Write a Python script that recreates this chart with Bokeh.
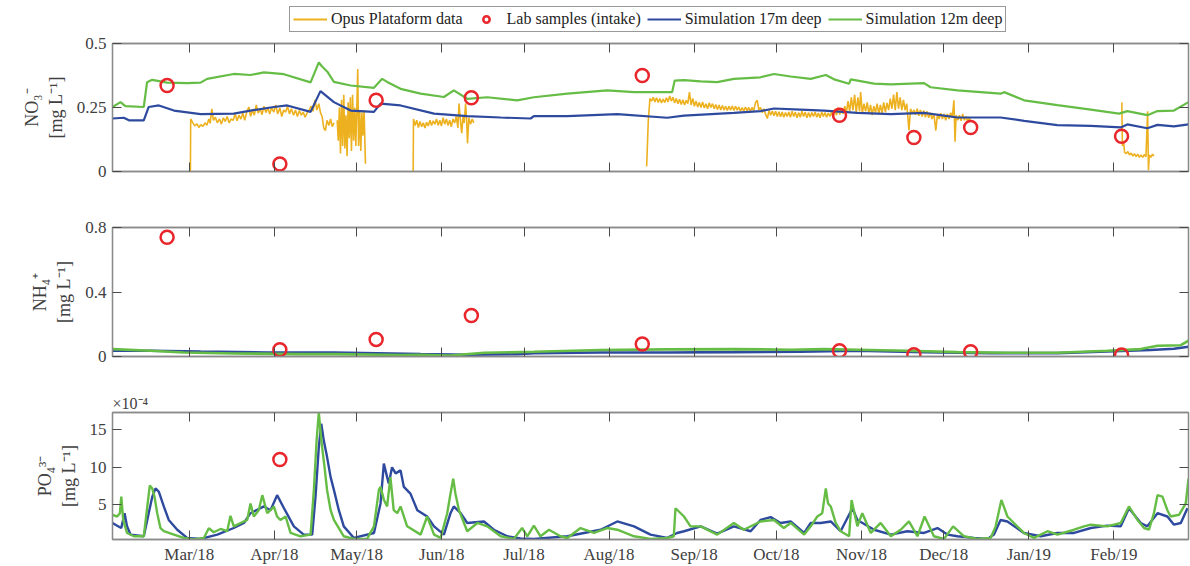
import math
import numpy as np
import pandas as pd
from bokeh.plotting import figure
from bokeh.layouts import column
from bokeh.models import (Range1d, FixedTicker, LinearAxis, DatetimeAxis, Legend,
                          LegendItem, CustomJSTickFormatter, DatetimeTickFormatter)
from bokeh.embed import file_html
from bokeh.resources import INLINE

NA = float("nan")
START = pd.Timestamp("2018-02-01")
END_DAY = 392.2  # last record, in days after START

# ---------------------------------------------------------------- data
# all series: (days after 2018-02-01, value)
month_ticks = ["2018-03-01", "2018-04-01", "2018-05-01", "2018-06-01", "2018-07-01",
               "2018-08-01", "2018-09-01", "2018-10-01", "2018-11-01", "2018-12-01",
               "2019-01-01", "2019-02-01"]
month_labels = ["Mar/18", "Apr/18", "May/18", "Jun/18", "Jul/18", "Aug/18",
                "Sep/18", "Oct/18", "Nov/18", "Dec/18", "Jan/19", "Feb/19"]

# lab samples taken at the intake
lab_day = [19.9, 61.0, 96.1, 130.8, 193.1, 265.0, 292.1, 312.8, 367.8]
lab_no3 = [0.336, 0.029, 0.278, 0.288, 0.375, 0.220, 0.133, 0.172, 0.138]
lab_nh4 = [0.740, 0.042, 0.106, 0.254, 0.077, 0.036, 0.011, 0.029, 0.009]
lab_po4 = [NA, 11.05, NA, NA, NA, NA, NA, NA, NA]          # x 1e-4 mg/L

# NO3 from the Opus platform sensor (gaps = no data)
opus_no3 = [
    (28.4, 0.0), (28.5, 0.205), (29.3, 0.19), (30.0, 0.178), (30.8, 0.186), (31.5, 0.172),
    (32.2, 0.183), (33.0, 0.176), (33.7, 0.19), (34.4, 0.181), (35.1, 0.205), (35.6, 0.188),
    (36.2, 0.245), (36.8, 0.2), (37.5, 0.212), (38.2, 0.19), (39.0, 0.205), (39.7, 0.185),
    (40.4, 0.21), (41.1, 0.195), (41.8, 0.215), (42.5, 0.19), (43.2, 0.205), (44.0, 0.2),
    (44.7, 0.225), (45.4, 0.198), (46.1, 0.22), (46.8, 0.205), (47.5, 0.228), (48.2, 0.2),
    (49.0, 0.235), (49.7, 0.252), (50.3, 0.215), (51.0, 0.24), (51.7, 0.22), (52.4, 0.26),
    (53.1, 0.228), (53.8, 0.245), (54.5, 0.222), (55.2, 0.255), (55.9, 0.23), (56.6, 0.248),
    (57.3, 0.225), (58.0, 0.25), (58.8, 0.232), (59.5, 0.26), (60.2, 0.225), (61.0, 0.248),
    (61.7, 0.215), (62.4, 0.24), (63.1, 0.232), (63.8, 0.255), (64.5, 0.225), (65.2, 0.245),
    (66.0, 0.22), (66.7, 0.24), (67.4, 0.215), (68.1, 0.238), (68.8, 0.22), (69.5, 0.232),
    (70.2, 0.212), (71.0, 0.23), (71.7, 0.24), (72.4, 0.255), (73.1, 0.235), (73.8, 0.28),
    (74.5, 0.24), (75.2, 0.265), (75.8, 0.23), (76.4, 0.215), (77.0, 0.17), (77.6, 0.16),
    (78.2, 0.2), (78.9, 0.18), (79.5, 0.205), (80.1, 0.175), (80.7, 0.19),
    (NA, NA),
    (81.9, 0.2), (82.3, 0.12), (82.7, 0.25), (83.1, 0.07), (83.5, 0.28), (83.9, 0.1),
    (84.3, 0.3), (84.7, 0.09), (85.1, 0.22), (85.5, 0.06), (85.9, 0.27), (86.3, 0.13),
    (86.7, 0.29), (87.1, 0.08), (87.5, 0.3), (87.9, 0.12), (88.3, 0.25), (88.7, 0.1),
    (89.1, 0.27), (89.4, 0.40), (89.7, 0.1), (90.1, 0.24), (90.5, 0.08), (90.9, 0.23),
    (91.3, 0.14), (91.7, 0.24), (92.2, 0.03),
    (NA, NA),
    (109.6, 0.0), (109.7, 0.205), (110.3, 0.18), (110.9, 0.2), (111.5, 0.172), (112.1, 0.195),
    (112.7, 0.175), (113.3, 0.19), (113.9, 0.17), (114.5, 0.192), (115.1, 0.178), (115.7, 0.2),
    (116.3, 0.18), (116.9, 0.198), (117.5, 0.185), (118.1, 0.205), (118.7, 0.18), (119.3, 0.2),
    (119.9, 0.178), (120.5, 0.21), (121.1, 0.185), (121.7, 0.205), (122.3, 0.18), (122.9, 0.2),
    (123.5, 0.175), (124.1, 0.205), (124.7, 0.19), (125.3, 0.215), (125.9, 0.17), (126.3, 0.265),
    (126.8, 0.2), (127.3, 0.15), (127.8, 0.22), (128.2, 0.19), (128.7, 0.265), (129.1, 0.2),
    (129.4, 0.11), (129.9, 0.21), (130.5, 0.185), (131.1, 0.205), (131.7, 0.19),
    (NA, NA),
    (194.7, 0.02), (195.3, 0.2), (195.9, 0.285), (196.5, 0.275), (197.1, 0.29), (197.7, 0.272),
    (198.3, 0.288), (198.9, 0.27), (199.5, 0.285), (200.1, 0.268), (200.7, 0.283), (201.3, 0.27),
    (201.9, 0.288), (202.5, 0.272), (203.1, 0.295), (203.7, 0.275), (204.3, 0.29), (204.9, 0.268),
    (205.5, 0.285), (206.1, 0.265), (206.7, 0.282), (207.3, 0.262), (207.9, 0.28), (208.5, 0.26),
    (209.1, 0.278), (209.7, 0.265), (210.3, 0.31), (210.9, 0.26), (211.5, 0.285), (212.1, 0.255),
    (212.7, 0.275), (213.3, 0.252), (213.9, 0.27), (214.5, 0.25), (215.1, 0.272), (215.7, 0.248),
    (216.3, 0.265), (216.9, 0.245), (217.5, 0.268), (218.1, 0.25), (218.7, 0.265), (219.3, 0.245),
    (219.9, 0.262), (220.5, 0.242), (221.1, 0.26), (221.7, 0.24), (222.3, 0.258), (222.9, 0.24),
    (223.5, 0.255), (224.1, 0.238), (224.7, 0.255), (225.3, 0.24), (225.9, 0.256), (226.5, 0.238),
    (227.1, 0.255), (227.7, 0.24), (228.3, 0.252), (228.9, 0.236), (229.5, 0.25), (230.1, 0.236),
    (230.7, 0.252), (231.3, 0.238), (231.9, 0.25), (232.5, 0.235), (233.1, 0.25), (233.7, 0.238),
    (234.4, 0.27), (235.0, 0.278), (235.6, 0.24), (236.2, 0.25), (236.8, 0.23), (237.4, 0.245),
    (238.0, 0.225), (238.7, 0.207), (239.3, 0.238), (239.9, 0.22), (240.5, 0.236), (241.1, 0.218),
    (241.7, 0.235), (242.3, 0.215), (242.9, 0.233), (243.5, 0.214), (244.1, 0.232), (244.7, 0.212),
    (245.3, 0.23), (245.9, 0.215), (246.5, 0.232), (247.1, 0.212), (247.7, 0.235), (248.3, 0.215),
    (248.9, 0.232), (249.5, 0.21), (250.1, 0.23), (250.7, 0.212), (251.3, 0.235), (251.9, 0.215),
    (252.5, 0.232), (253.1, 0.21), (253.7, 0.23), (254.3, 0.212), (254.9, 0.23), (255.5, 0.215),
    (256.1, 0.232), (256.7, 0.212), (257.3, 0.228), (257.9, 0.21), (258.5, 0.232), (259.1, 0.215),
    (259.7, 0.23), (260.3, 0.212), (260.9, 0.228), (261.5, 0.215), (262.1, 0.232), (262.7, 0.212),
    (263.3, 0.245), (263.9, 0.22), (264.5, 0.25), (265.1, 0.222), (265.7, 0.248), (266.3, 0.225),
    (266.9, 0.255), (267.5, 0.23), (268.1, 0.275), (268.7, 0.235), (269.3, 0.29), (269.9, 0.24),
    (270.5, 0.3), (271.1, 0.23), (271.7, 0.29), (272.3, 0.235), (272.7, 0.31), (273.3, 0.226),
    (273.9, 0.265), (274.5, 0.235), (275.1, 0.27), (275.7, 0.225), (276.3, 0.26), (276.9, 0.22),
    (277.5, 0.255), (278.1, 0.23), (278.7, 0.265), (279.3, 0.225), (279.9, 0.26), (280.5, 0.228),
    (281.1, 0.27), (281.7, 0.232), (282.3, 0.268), (282.9, 0.24), (283.5, 0.285), (284.1, 0.245),
    (284.7, 0.3), (285.3, 0.24), (285.9, 0.31), (286.5, 0.245), (287.1, 0.29), (287.7, 0.24),
    (288.3, 0.28), (288.9, 0.24), (289.5, 0.265), (290.3, 0.16), (290.9, 0.245), (291.5, 0.225),
    (292.1, 0.24), (292.7, 0.222), (293.3, 0.245), (293.9, 0.218), (294.5, 0.24), (295.1, 0.215),
    (295.7, 0.238), (296.3, 0.212), (296.9, 0.235), (297.5, 0.21), (298.1, 0.23), (298.7, 0.205),
    (299.4, 0.225), (300.1, 0.16), (300.7, 0.225), (301.3, 0.205), (301.9, 0.228), (302.5, 0.205),
    (303.1, 0.225), (303.7, 0.2), (304.3, 0.225), (304.9, 0.205), (305.5, 0.23), (306.1, 0.21),
    (306.7, 0.278), (307.1, 0.116), (307.5, 0.22), (308.1, 0.2), (308.7, 0.22), (309.3, 0.198),
    (309.9, 0.225), (310.5, 0.2), (311.1, 0.215), (311.7, 0.195), (312.3, 0.21), (312.8, 0.195),
    (NA, NA),
    (367.9, 0.27), (368.1, 0.1), (368.5, 0.12), (368.9, 0.075), (369.5, 0.07), (370.1, 0.078),
    (370.7, 0.065), (371.3, 0.072), (371.9, 0.06), (372.5, 0.07), (373.1, 0.058), (373.7, 0.068),
    (374.3, 0.055), (374.9, 0.065), (375.5, 0.055), (376.1, 0.066), (376.7, 0.058), (377.3, 0.235),
    (377.6, 0.005), (377.9, 0.065), (378.5, 0.055), (379.1, 0.068), (379.6, 0.06),
]

# simulated NO3
sim17_no3 = [
    (0.0, 0.207), (4.1, 0.21), (6.0, 0.2), (11.4, 0.2), (13.2, 0.252), (16.9, 0.258),
    (22.4, 0.238), (32.1, 0.224), (44.2, 0.226), (50.3, 0.238), (58.8, 0.252), (63.7, 0.258),
    (72.2, 0.233), (75.8, 0.314), (80.7, 0.271), (86.8, 0.238), (95.3, 0.233), (97.7, 0.265),
    (105.0, 0.258), (117.2, 0.226), (129.3, 0.216), (141.5, 0.211), (152.4, 0.207),
    (153.6, 0.216), (165.8, 0.216), (184.0, 0.224), (202.2, 0.21), (208.3, 0.218),
    (226.5, 0.229), (236.2, 0.236), (241.1, 0.246), (250.8, 0.242), (259.4, 0.238),
    (271.5, 0.229), (283.7, 0.224), (295.8, 0.229), (308.0, 0.211), (323.7, 0.211),
    (332.3, 0.198), (344.4, 0.181), (356.6, 0.178), (367.5, 0.172), (369.9, 0.184),
    (377.2, 0.169), (380.9, 0.182), (386.9, 0.176), (392.2, 0.184),
]
sim12_no3 = [
    (0.0, 0.252), (2.9, 0.271), (4.7, 0.255), (11.4, 0.252), (12.6, 0.349), (14.5, 0.358),
    (19.9, 0.347), (27.2, 0.345), (32.1, 0.347), (34.5, 0.362), (44.2, 0.381), (50.3, 0.377),
    (55.2, 0.387), (62.5, 0.38), (72.2, 0.348), (75.2, 0.426), (76.4, 0.41), (78.3, 0.39),
    (80.7, 0.35), (86.8, 0.336), (95.3, 0.327), (98.3, 0.362), (100.1, 0.35), (105.0, 0.323),
    (112.3, 0.304), (120.8, 0.291), (124.4, 0.317), (129.3, 0.284), (136.6, 0.29),
    (147.5, 0.278), (153.6, 0.29), (165.8, 0.304), (180.3, 0.317), (190.1, 0.31),
    (204.0, 0.31), (204.9, 0.355), (208.3, 0.357), (214.4, 0.352), (220.4, 0.349),
    (226.5, 0.362), (236.2, 0.368), (241.1, 0.381), (247.2, 0.371), (254.5, 0.362),
    (260.0, 0.377), (263.0, 0.36), (268.5, 0.343), (269.1, 0.36), (277.6, 0.343),
    (283.7, 0.34), (295.8, 0.345), (298.2, 0.329), (308.0, 0.317), (323.7, 0.304),
    (325.0, 0.31), (332.3, 0.278), (344.4, 0.259), (356.6, 0.242), (366.9, 0.226),
    (369.9, 0.236), (377.2, 0.22), (380.9, 0.236), (386.9, 0.238), (392.2, 0.271),
]

# simulated NH4
sim17_nh4 = [
    (0.0, 0.036), (13.9, 0.036), (32.1, 0.031), (56.4, 0.025), (80.7, 0.024), (112.3, 0.015),
    (129.3, 0.011), (147.5, 0.015), (153.6, 0.021), (177.9, 0.025), (202.2, 0.025),
    (226.5, 0.027), (250.8, 0.03), (271.5, 0.036), (295.8, 0.027), (320.1, 0.021),
    (344.4, 0.021), (362.6, 0.031), (378.4, 0.04), (386.9, 0.048), (392.2, 0.06),
]
sim12_nh4 = [
    (0.0, 0.046), (13.9, 0.036), (26.0, 0.025), (44.2, 0.019), (68.5, 0.015), (80.7, 0.015),
    (105.0, 0.009), (112.3, 0.011), (123.2, 0.006), (135.4, 0.023), (153.6, 0.029),
    (177.9, 0.04), (202.2, 0.044), (226.5, 0.046), (247.2, 0.042), (259.4, 0.046),
    (271.5, 0.042), (289.7, 0.036), (308.0, 0.027), (326.2, 0.023), (344.4, 0.023),
    (362.6, 0.036), (374.8, 0.046), (380.9, 0.067), (389.4, 0.07), (392.2, 0.098),
]

# simulated PO4, x 1e-4 mg/L
sim17_po4 = [
    (0.0, 2.6), (1.7, 2.24), (3.2, 1.93), (4.4, 3.9), (5.3, 2.15), (6.6, 1.05), (11.4, 0.83),
    (13.2, 3.9), (14.5, 6.1), (15.7, 7.2), (16.9, 6.75), (18.7, 4.8), (20.5, 3.0), (23.6, 1.7),
    (27.2, 0.61), (32.1, 0.48), (38.2, 1.05), (44.2, 1.93), (47.9, 2.6), (50.3, 3.9),
    (55.2, 4.8), (57.6, 4.3), (60.0, 6.3), (62.5, 4.56), (66.1, 2.15), (69.7, 1.05),
    (72.8, 1.05), (74.0, 6.1), (75.2, 12.7), (76.1, 15.8), (77.0, 13.6), (78.2, 11.4),
    (79.5, 8.7), (80.7, 7.0), (82.5, 4.3), (84.3, 2.15), (88.0, 0.61), (95.3, 1.27),
    (97.7, 5.2), (98.9, 10.5), (100.1, 8.7), (100.7, 7.85), (101.9, 10.0), (103.2, 9.2),
    (105.0, 9.6), (106.2, 7.4), (108.6, 6.5), (111.1, 4.3), (114.7, 3.46), (117.2, 2.15),
    (120.8, 1.05), (123.2, 3.9), (124.4, 4.8), (126.9, 3.9), (129.3, 2.6), (135.4, 2.8),
    (139.0, 1.7), (143.9, 0.83), (148.7, 0.53), (153.6, 0.48), (165.8, 0.83), (177.9, 1.7),
    (184.0, 2.8), (190.1, 2.15), (196.1, 1.05), (202.2, 0.61), (205.8, 1.27), (208.3, 1.5),
    (214.4, 2.15), (220.4, 1.18), (226.5, 2.15), (232.6, 1.5), (236.2, 3.0), (239.9, 3.38),
    (243.5, 2.6), (247.2, 2.8), (252.1, 1.27), (254.5, 2.6), (258.1, 2.6), (261.8, 2.8),
    (265.4, 1.5), (269.7, 4.56), (271.5, 3.0), (277.6, 1.7), (283.7, 1.05), (289.7, 1.5),
    (295.8, 1.27), (300.7, 1.93), (304.3, 1.05), (308.0, 0.83), (314.0, 0.61), (318.9, 0.48),
    (321.3, 1.05), (323.7, 3.0), (326.2, 2.8), (332.2, 1.27), (338.3, 0.83), (344.4, 1.27),
    (350.5, 1.27), (356.6, 1.93), (362.6, 2.24), (367.5, 2.15), (370.5, 4.56), (374.8, 2.6),
    (377.2, 2.15), (380.9, 3.9), (384.5, 3.46), (386.9, 2.37), (389.4, 2.6), (391.8, 4.56),
]
sim12_po4 = [
    (0.0, 3.68), (1.7, 3.46), (2.7, 3.9), (3.2, 6.1), (3.9, 3.0), (5.3, 1.27), (7.8, 0.83),
    (11.4, 0.83), (12.4, 3.9), (13.6, 7.6), (14.5, 7.2), (15.3, 6.1), (16.3, 3.9), (17.5, 1.9),
    (18.7, 1.5), (22.4, 1.05), (26.0, 0.61), (29.6, 0.4), (33.3, 0.6), (35.1, 1.9),
    (36.9, 1.36), (39.4, 1.8), (41.8, 1.5), (43.0, 3.55), (44.2, 2.15), (46.7, 2.6),
    (49.1, 3.0), (50.3, 5.2), (51.5, 3.46), (53.3, 4.3), (54.6, 6.3), (56.4, 3.9), (57.6, 4.3),
    (58.8, 4.8), (60.0, 3.46), (61.2, 3.0), (63.1, 3.46), (64.9, 1.27), (68.5, 0.83),
    (72.2, 1.05), (73.4, 7.0), (74.4, 13.6), (75.2, 17.3), (75.8, 14.9), (76.4, 12.7),
    (77.3, 10.0), (78.2, 7.0), (79.5, 4.3), (80.7, 3.0), (84.3, 0.83), (88.0, 0.48),
    (92.8, 0.48), (95.3, 2.15), (97.1, 7.0), (97.7, 7.4), (98.9, 5.7), (100.1, 4.8),
    (101.3, 8.7), (102.5, 4.3), (103.8, 3.9), (105.0, 4.8), (107.4, 2.15), (112.3, 1.05),
    (114.7, 3.46), (117.2, 1.05), (119.6, 0.61), (122.0, 3.9), (123.2, 6.5), (124.2, 8.5),
    (125.0, 6.5), (126.3, 4.3), (129.3, 1.5), (133.0, 2.6), (136.6, 2.15), (141.5, 0.83),
    (146.3, 0.48), (149.3, 1.93), (151.2, 0.83), (153.6, 2.24), (156.0, 0.83), (159.1, 1.7),
    (163.3, 0.83), (165.8, 0.6), (170.6, 1.93), (175.5, 1.27), (180.3, 1.93), (184.0, 1.7),
    (190.1, 0.83), (196.1, 0.48), (202.2, 0.6), (204.6, 0.83), (205.2, 4.56), (208.3, 3.46),
    (210.7, 2.15), (214.4, 2.15), (220.4, 1.05), (226.5, 2.6), (230.1, 1.7), (236.2, 2.8),
    (241.1, 3.0), (244.7, 1.93), (247.2, 2.6), (252.1, 1.05), (254.5, 2.15), (256.9, 3.46),
    (258.7, 3.9), (260.0, 7.2), (260.8, 5.2), (261.8, 4.8), (263.6, 2.6), (265.4, 1.5),
    (268.5, 0.83), (269.4, 5.66), (271.5, 2.15), (273.3, 3.9), (276.4, 1.27), (280.0, 2.6),
    (283.7, 0.83), (287.3, 1.7), (290.3, 2.8), (293.4, 0.83), (296.0, 3.46), (299.4, 0.83),
    (303.1, 0.48), (306.4, 2.15), (310.4, 0.83), (315.2, 0.48), (320.1, 0.61), (321.9, 2.15),
    (324.0, 5.66), (326.2, 3.46), (332.2, 1.27), (335.9, 0.61), (340.8, 1.5), (344.4, 1.05),
    (350.5, 1.7), (354.1, 2.15), (356.6, 2.37), (362.6, 2.15), (367.5, 2.6), (370.5, 4.8),
    (373.6, 3.0), (376.0, 1.93), (377.8, 1.7), (379.6, 3.9), (380.9, 6.3), (382.7, 6.1),
    (384.5, 4.3), (385.7, 3.46), (388.8, 3.7), (391.2, 5.2), (392.2, 8.5),
]

# ---------------------------------------------------------------- style
FONT = "Liberation Serif"
AXIS_COL = "#8a8a8a"
TICK_COL = "#4a4a4a"
TEXT_COL = "#404040"
C_OPUS = "#EDB120"
C_LAB = "#E8262B"
C_17 = "#2E4A9E"
C_12 = "#66BD45"

START_MS = START.value // 10**6
DAY_MS = 86400000.0


def to_ms(days):
    # epoch milliseconds; NaN stays NaN so that lines break at gaps
    return START_MS + np.asarray(days, dtype=float) * DAY_MS


def split(pairs):
    arr = np.asarray(pairs, dtype=float)
    return to_ms(arr[:, 0]), arr[:, 1]


blank = CustomJSTickFormatter(code="return ''")
month_ms = [pd.Timestamp(t).value // 10**6 for t in month_ticks]
x_range = Range1d(start=START_MS, end=float(to_ms(END_DAY)))


def style_axis(ax):
    ax.axis_line_color = AXIS_COL
    ax.axis_line_width = 1.3
    ax.major_tick_line_color = TICK_COL
    ax.major_tick_line_width = 1
    ax.major_tick_in = 9
    ax.major_tick_out = 0
    ax.minor_tick_line_color = None
    ax.major_label_text_font = FONT
    ax.major_label_text_font_size = "17px"
    ax.major_label_text_color = TEXT_COL
    ax.axis_label_text_font = FONT
    ax.axis_label_text_font_size = "18px"
    ax.axis_label_text_font_style = "normal"
    ax.axis_label_text_color = TEXT_COL


def make_panel(height, top, bottom, y_lo, y_hi, y_ticks, ylabel, x_labels):
    p = figure(width=1190, height=height, x_axis_type="datetime", x_range=x_range,
               y_range=Range1d(y_lo, y_hi), output_backend="svg", toolbar_location=None,
               min_border_left=112, min_border_right=2, min_border_top=top,
               min_border_bottom=bottom)
    p.xgrid.visible = False
    p.ygrid.visible = False
    p.outline_line_color = AXIS_COL
    p.outline_line_width = 1.3
    p.background_fill_color = "white"
    p.border_fill_color = "white"

    xa = p.xaxis[0]
    xa.ticker = FixedTicker(ticks=month_ms)
    if x_labels:
        xa.formatter = DatetimeTickFormatter(days="%b/%y", months="%b/%y", years="%b/%y")
        xa.major_label_standoff = 5
    else:
        xa.formatter = blank
        xa.major_label_standoff = 0
    style_axis(xa)

    ya = p.yaxis[0]
    ya.ticker = FixedTicker(ticks=y_ticks)
    ya.axis_label = ylabel
    ya.major_label_standoff = 6
    ya.axis_label_standoff = 8
    style_axis(ya)

    xt = DatetimeAxis(ticker=FixedTicker(ticks=month_ms), formatter=blank,
                      major_label_standoff=0)
    style_axis(xt)
    p.add_layout(xt, "above")
    yr = LinearAxis(ticker=FixedTicker(ticks=y_ticks), formatter=blank,
                    major_label_standoff=0)
    style_axis(yr)
    p.add_layout(yr, "right")
    return p


lab_x = to_ms(lab_day)
lab_style = dict(marker="circle", size=13, line_color=C_LAB, line_width=2.5, fill_color=None)

# ---- legend strip across the top; its key glyphs sit outside the visible range
pl = figure(width=1190, height=33, x_range=Range1d(0, 1), y_range=Range1d(0, 1),
            output_backend="svg", toolbar_location=None, min_border=0)
pl.axis.visible = False
pl.xgrid.visible = False
pl.ygrid.visible = False
pl.outline_line_color = None
k_opus = pl.line([-3, -2], [-3, -2], color=C_OPUS, line_width=1.8)
k_lab = pl.scatter([-3], [-3], **lab_style)
k_17 = pl.line([-3, -2], [-3, -2], color=C_17, line_width=2.2)
k_12 = pl.line([-3, -2], [-3, -2], color=C_12, line_width=2.2)
legend = Legend(items=[LegendItem(label="Opus Plataform data", renderers=[k_opus]),
                       LegendItem(label="Lab samples (intake)", renderers=[k_lab]),
                       LegendItem(label="Simulation 17m deep", renderers=[k_17]),
                       LegendItem(label="Simulation 12m deep", renderers=[k_12])],
                orientation="horizontal", location=(177, 1),
                label_text_font=FONT, label_text_font_size="16px", label_text_color="#222222",
                glyph_width=34, glyph_height=16, label_height=16, label_standoff=4,
                spacing=6, padding=3, margin=0,
                border_line_color="#333333", border_line_width=1,
                background_fill_color="white", background_fill_alpha=1.0)
pl.add_layout(legend, "center")

# ---- NO3
p1 = make_panel(166, 10, 28, 0, 0.5, [0, 0.25, 0.5], "NO\u2083\u207b\n[mg L\u207b\u00b9]", False)
ox, oy = split(opus_no3)
p1.line(ox, oy, color=C_OPUS, line_width=1.6)
bx, by = split(sim17_no3)
p1.line(bx, by, color=C_17, line_width=2.2)
gx, gy = split(sim12_no3)
p1.line(gx, gy, color=C_12, line_width=2.2)
p1.scatter(lab_x, np.asarray(lab_no3), **lab_style)

# ---- NH4
p2 = make_panel(185, 28, 28, 0, 0.8, [0, 0.4, 0.8], "NH\u2084\u207a\n[mg L\u207b\u00b9]", False)
bx, by = split(sim17_nh4)
p2.line(bx, by, color=C_17, line_width=2.6)
gx, gy = split(sim12_nh4)
p2.line(gx, gy, color=C_12, line_width=2.6)
p2.scatter(lab_x, np.asarray(lab_nh4), **lab_style)

# ---- PO4 (axis in units of 1e-4)
p3 = make_panel(182, 28, 26, 0.4, 17.3, [5, 10, 15], "PO\u2084\u00b3\u207b\n[mg L\u207b\u00b9]", True)
p3.title.text = "\u00d710\u207b\u2074"
p3.title.align = "left"
p3.title.text_font = FONT
p3.title.text_font_size = "16px"
p3.title.text_font_style = "normal"
p3.title.text_color = TEXT_COL
p3.title.standoff = 2
bx, by = split(sim17_po4)
p3.line(bx, by, color=C_17, line_width=2.4)
gx, gy = split(sim12_po4)
p3.line(gx, gy, color=C_12, line_width=2.4)
p3.scatter(lab_x, np.asarray(lab_po4, dtype=float), **lab_style)

layout = column(pl, p1, p2, p3, spacing=0)
open("out.html", "w").write(file_html(layout, INLINE))
